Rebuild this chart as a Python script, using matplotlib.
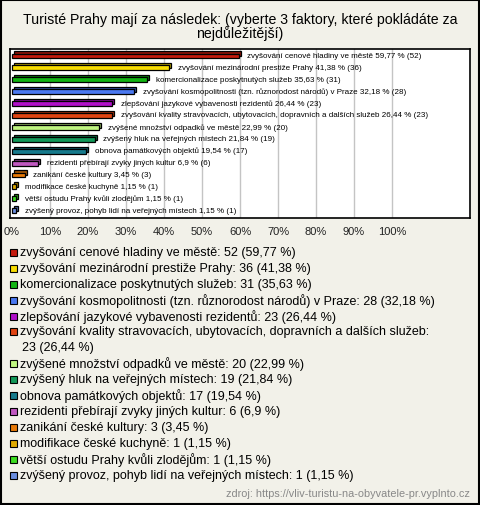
import textwrap
import matplotlib
matplotlib.use("Agg")
import matplotlib.pyplot as plt
from matplotlib.patches import Rectangle
from matplotlib.colors import to_rgb

title = "Turisté Prahy mají za následek: (vyberte 3 faktory, které pokládáte za\nnejdůležitější)"
categories = [
    "zvyšování cenové hladiny ve městě",
    "zvyšování mezinárodní prestiže Prahy",
    "komercionalizace poskytnutých služeb",
    "zvyšování kosmopolitnosti (tzn. různorodost národů) v Praze",
    "zlepšování jazykové vybavenosti rezidentů",
    "zvyšování kvality stravovacích, ubytovacích, dopravních a dalších služeb",
    "zvýšené množství odpadků ve městě",
    "zvýšený hluk na veřejných místech",
    "obnova památkových objektů",
    "rezidenti přebírají zvyky jiných kultur",
    "zanikání české kultury",
    "modifikace české kuchyně",
    "větší ostudu Prahy kvůli zlodějům",
    "zvýšený provoz, pohyb lidí na veřejných místech",
]
counts = [52, 36, 31, 28, 23, 23, 20, 19, 17, 6, 3, 1, 1, 1]
percents = [59.77, 41.38, 35.63, 32.18, 26.44, 26.44, 22.99, 21.84, 19.54, 6.9, 3.45, 1.15, 1.15, 1.15]
colors = ["#c41a0c", "#f7dc00", "#12b412", "#4a78f0", "#b010c8", "#e04412", "#bff580",
          "#129858", "#167a8c", "#c058c0", "#e87a08", "#e0aa00", "#3cdc20", "#6a8ee0"]
xtick_vals = [0, 10, 20, 30, 40, 50, 60, 70, 80, 90, 100]
xtick_labels = ["0%", "10%", "20%", "30%", "40%", "50%", "60%", "70%", "80%", "90%", "100%"]
source = "zdroj: https://vliv-turistu-na-obyvatele-pr.vyplnto.cz"

W, H = 480, 506
BG = "#f2f1e9"
FONT = "Liberation Sans"

def fmt(p):
    return f"{p:g}".replace(".", ",")

fig = plt.figure(figsize=(W / 100, H / 100), dpi=100, facecolor=BG)

def fx(px):
    return px / W

def fy(py):
    return 1 - py / H

# title
fig.text(fx(240), fy(27), title, ha="center", va="center", fontsize=10.2,
         family=FONT, linespacing=1.0)

# plot area
L, R, T, B = 10, 470, 50, 219
ax = fig.add_axes([fx(L), fy(B), fx(R - L), (B - T) / H])
ax.set_facecolor("white")
px_per_pct = 3.8
x0 = 12
ax.set_xlim((L - x0) / px_per_pct, (R - x0) / px_per_pct)
y_first, y_step = 57, 11.9
ax.set_ylim((B - y_first) / y_step, (T - y_first) / y_step)
for s in ax.spines.values():
    s.set_color("black")
    s.set_linewidth(1.2)
for g in xtick_vals[1:]:
    ax.axvline(g, color="#c4c4c4", lw=1.0, zorder=0)

n = len(categories)
ys = list(range(n))
back_colors = [tuple(c * 0.7 for c in to_rgb(col)) for col in colors]
ax.barh([y - 0.17 for y in ys], percents, left=0.45, height=0.42,
        color=back_colors, edgecolor="black", linewidth=0.9, zorder=2)
ax.barh(ys, percents, left=0.0, height=0.42, color=colors, edgecolor="black",
        linewidth=0.9, zorder=3)
for y, cat, p, c in zip(ys, categories, percents, counts):
    ax.text(p + 2.2, y - 0.05, f"{cat} {fmt(p)} % ({c})", ha="left", va="center",
            fontsize=5.75, family=FONT, zorder=4)

ax.set_xticks(xtick_vals)
ax.set_xticklabels(xtick_labels, fontsize=8, family=FONT, color="#222222")
ax.tick_params(axis="x", length=0, pad=6)
ax.set_yticks([])

# legend
line_y = 253
line_h = 15.9
for cat, p, c, col in zip(categories, percents, counts, colors):
    txt = f"{cat}: {c} ({fmt(p)} %)"
    lines = textwrap.wrap(txt, 74)
    fig.patches.append(Rectangle((fx(10), fy(line_y + 4)), fx(7), 7 / H,
                                 transform=fig.transFigure, facecolor=col,
                                 edgecolor="black", linewidth=0.8))
    for i, ln in enumerate(lines):
        fig.text(fx(20 if i == 0 else 22), fy(line_y), ln, ha="left", va="center",
                 fontsize=9.0, family=FONT)
        line_y += line_h

fig.text(fx(470), fy(494), source, ha="right", va="center", fontsize=7.8,
         family=FONT, color="#888888")

fig.patches.append(Rectangle((fx(1), fy(505)), fx(478), 504 / H,
                             transform=fig.transFigure, fill=False,
                             edgecolor="black", linewidth=1.5))

fig.savefig("out.png", dpi=100, facecolor=BG)
